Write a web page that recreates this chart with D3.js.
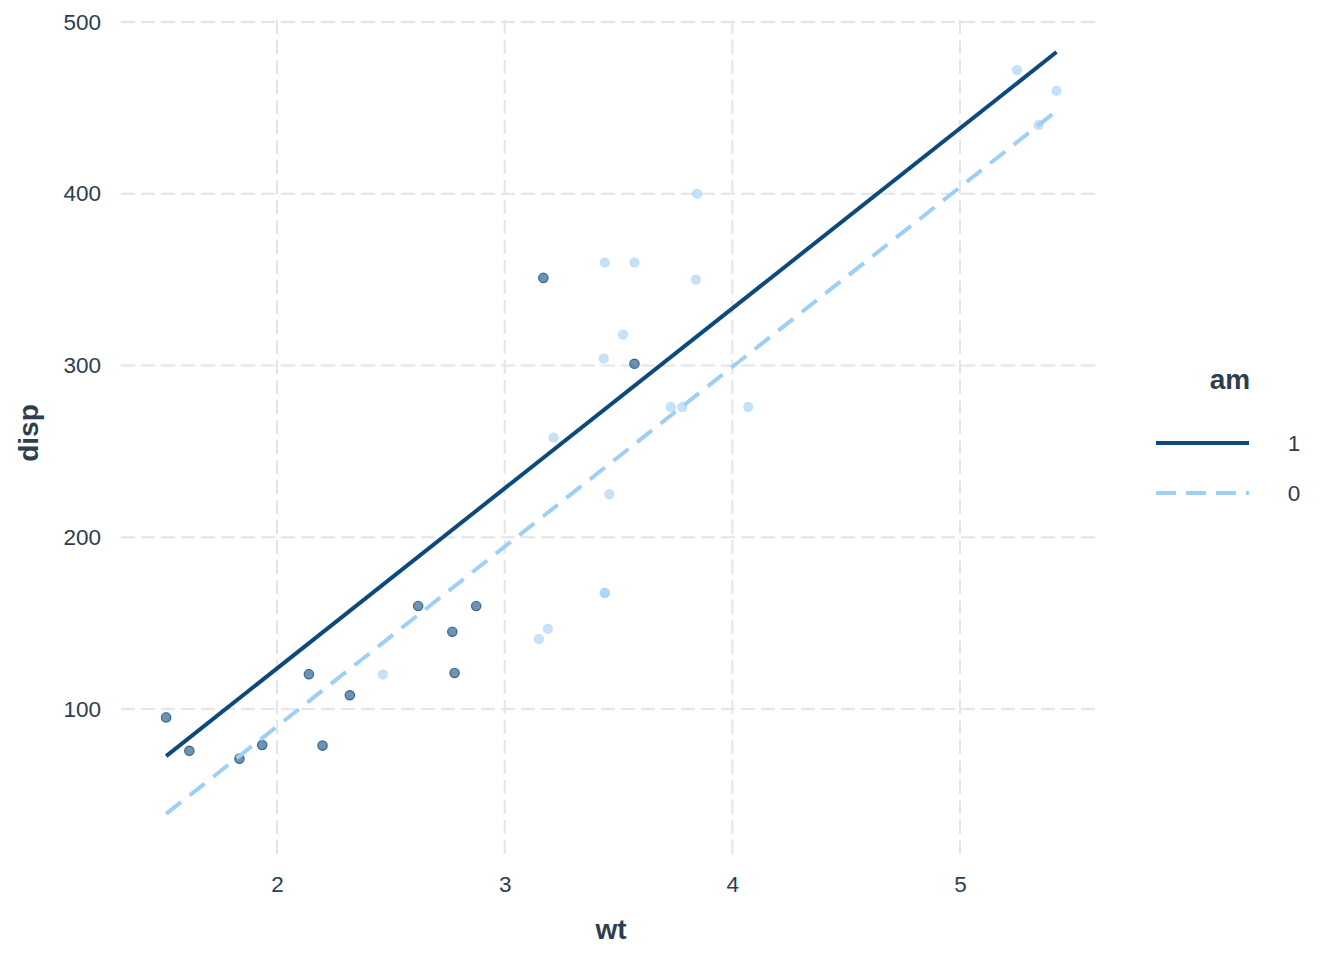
<!DOCTYPE html>
<html>
<head>
<meta charset="utf-8">
<script src="https://cdn.jsdelivr.net/npm/d3@7"></script>
<style>
  html, body { margin: 0; padding: 0; background: #fff; }
  text { font-family: "Liberation Sans", Arial, sans-serif; }
</style>
</head>
<body>
<svg id="chart" width="1344" height="960"></svg>
<script>
// mtcars: weight, displacement, transmission
const wt   = [2.620, 2.875, 2.320, 3.215, 3.440, 3.460, 3.570, 3.190, 3.150, 3.440, 3.440, 4.070, 3.730, 3.780, 5.250, 5.424, 5.345, 2.200, 1.615, 1.835, 2.465, 3.520, 3.435, 3.840, 3.845, 1.935, 2.140, 1.513, 3.170, 2.770, 3.570, 2.780];
const disp = [160, 160, 108, 258, 360, 225, 360, 146.7, 140.8, 167.6, 167.6, 275.8, 275.8, 275.8, 472, 460, 440, 78.7, 75.7, 71.1, 120.1, 318, 304, 350, 400, 79, 120.3, 95.1, 351, 145, 301, 121];
const am   = [1, 1, 1, 0, 0, 0, 0, 0, 0, 0, 0, 0, 0, 0, 0, 0, 0, 1, 1, 1, 0, 0, 0, 0, 0, 1, 1, 1, 1, 1, 1, 1];

// fitted lines
const fitGroups = ["1", "0"];
const fitWt   = [1.513, 5.424];
const fitAm1  = [72.6, 482.5];
const fitAm0  = [38.9, 448.2];

const xTicks = [2, 3, 4, 5];
const yTicks = [100, 200, 300, 400, 500];

const textColor = "#2c3e50";
const colors = { "1": "#0d4a7b", "0": "#9ecff5" };

const svg = d3.select("#chart");
const x = d3.scaleLinear().domain([2, 5]).range([277, 960]);
const y = d3.scaleLinear().domain([100, 500]).range([709, 22]);

const xMin = x.invert(121), xMax = x.invert(1098);
const yMin = y.invert(854), yMax = y.invert(14);

// grid
const grid = svg.append("g");
grid.selectAll(".gy").data(yTicks).enter().append("line")
  .attr("x1", x(xMin)).attr("x2", x(xMax))
  .attr("y1", d => y(d)).attr("y2", d => y(d))
  .attr("stroke", "#e5e5e5").attr("stroke-width", 2).attr("stroke-dasharray", "14,6");
grid.selectAll(".gx").data(xTicks).enter().append("line")
  .attr("y1", y(yMin)).attr("y2", y(yMax))
  .attr("x1", d => x(d)).attr("x2", d => x(d))
  .attr("stroke", "#e5e5e5").attr("stroke-width", 2).attr("stroke-dasharray", "14,6");

// axes (labels only)
const xAxis = svg.append("g").attr("transform", `translate(0, ${y(yMin)})`)
  .call(d3.axisBottom(x).tickValues(xTicks).tickSize(0).tickPadding(22).tickFormat(d3.format("d")));
const yAxis = svg.append("g").attr("transform", `translate(${x(xMin)}, 0)`)
  .call(d3.axisLeft(y).tickValues(yTicks).tickSize(0).tickPadding(20).tickFormat(d3.format("d")));
[xAxis, yAxis].forEach(a => {
  a.select(".domain").remove();
  a.selectAll("text").attr("fill", textColor).style("font-size", "22.5px")
    .style("font-family", "'Liberation Sans', Arial, sans-serif");
});

// points
const pts = wt.map((w, i) => ({ wt: w, disp: disp[i], am: String(am[i]) }));
svg.append("g").selectAll("circle").data(pts).enter().append("circle")
  .attr("cx", d => x(d.wt)).attr("cy", d => y(d.disp)).attr("r", 4.7)
  .attr("fill", d => colors[d.am]).attr("fill-opacity", 0.6)
  .attr("stroke", d => colors[d.am]).attr("stroke-opacity", d => d.am === "1" ? 0.75 : 0.35)
  .attr("stroke-width", 1.2);

// fitted lines
const lineGen = d3.line().x(d => x(d[0])).y(d => y(d[1]));
const fits = { "1": fitWt.map((w, i) => [w, fitAm1[i]]), "0": fitWt.map((w, i) => [w, fitAm0[i]]) };
fitGroups.slice().reverse().forEach(g => {
  svg.append("path").datum(fits[g]).attr("d", lineGen)
    .attr("fill", "none").attr("stroke", colors[g]).attr("stroke-width", 4)
    .attr("stroke-dasharray", g === "0" ? "19,11" : null);
});

// axis titles
svg.append("text").attr("x", 611).attr("y", 939).attr("text-anchor", "middle")
  .attr("fill", textColor).style("font-size", "28px").style("font-weight", "bold").text("wt");
svg.append("text").attr("transform", "translate(38, 433) rotate(-90)").attr("text-anchor", "middle")
  .attr("fill", textColor).style("font-size", "28px").style("font-weight", "bold").text("disp");

// legend
svg.append("text").attr("x", 1230).attr("y", 389).attr("text-anchor", "middle")
  .attr("fill", textColor).style("font-size", "28px").style("font-weight", "bold").text("am");
fitGroups.forEach((g, i) => {
  const ly = 443 + i * 50;
  svg.append("line").attr("x1", 1156).attr("x2", 1249).attr("y1", ly).attr("y2", ly)
    .attr("stroke", colors[g]).attr("stroke-width", 4)
    .attr("stroke-dasharray", g === "0" ? "20,10" : null);
  svg.append("text").attr("x", 1294).attr("y", ly + 8).attr("text-anchor", "middle")
    .attr("fill", textColor).style("font-size", "22.5px").text(g);
});
</script>
</body>
</html>
